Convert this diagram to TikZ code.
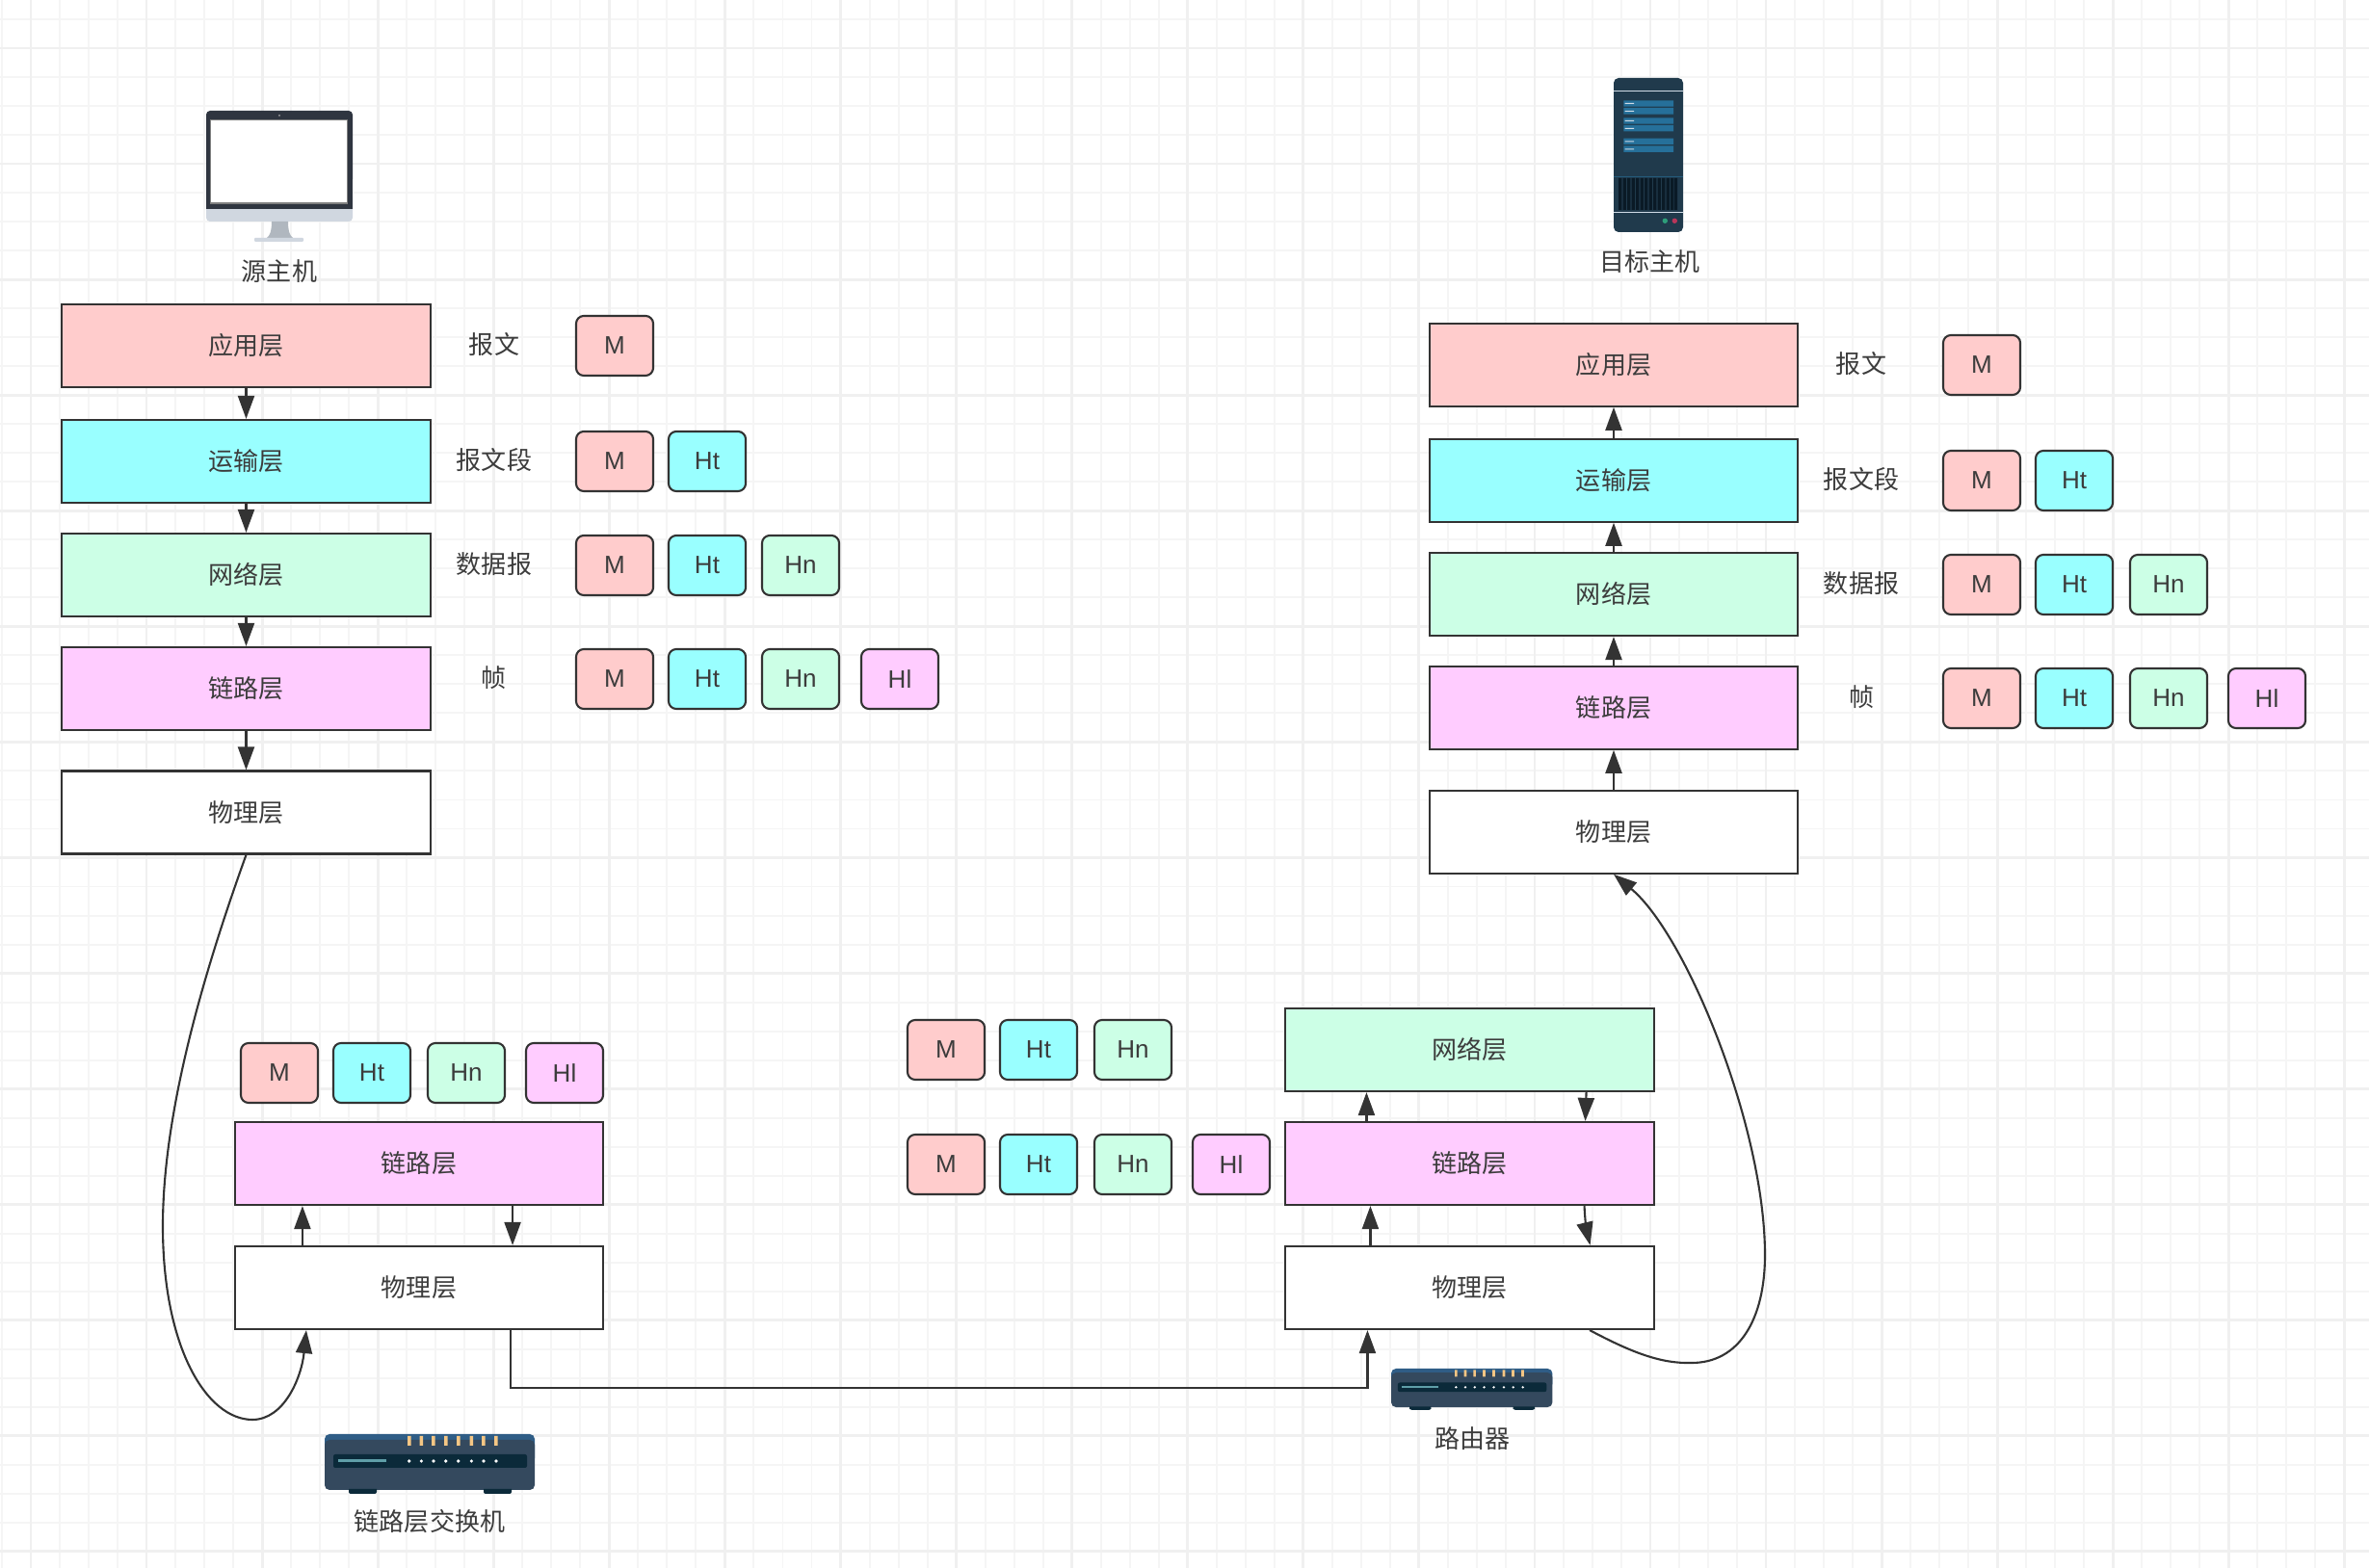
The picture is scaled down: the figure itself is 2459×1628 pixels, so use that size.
\documentclass[tikz,border=0pt]{standalone}
\usepackage{fontspec}
\usepackage{tikz}
\usetikzlibrary{arrows.meta}
\setmainfont{Liberation Sans}
\newfontfamily\cjkfont{Noto Sans CJK SC}
\definecolor{applayer}{HTML}{FFCCCC}
\definecolor{translayer}{HTML}{99FFFF}
\definecolor{netlayer}{HTML}{CCFFE6}
\definecolor{linklayer}{HTML}{FFCCFF}
\definecolor{inkgrey}{HTML}{333333}
\definecolor{textgrey}{HTML}{3C3C3C}
\definecolor{devbody}{HTML}{34495E}
\definecolor{devband}{HTML}{2F5D86}
\definecolor{devdark}{HTML}{0B2A3A}
\definecolor{devtick}{HTML}{F5C684}
\definecolor{devbar}{HTML}{5F9EA8}
\definecolor{srvbody}{HTML}{203A4C}
\definecolor{srvslat}{HTML}{26709A}
\definecolor{srvline}{HTML}{CFDBE6}
\definecolor{srvvent}{HTML}{0A1A26}
\definecolor{srvgreen}{HTML}{2E9E7A}
\definecolor{srvred}{HTML}{B8365A}
\definecolor{monframe}{HTML}{2F3540}
\definecolor{monchin}{HTML}{D0D7E0}
\definecolor{monstand}{HTML}{B0B7BF}
\tikzset{
  layerbox/.style={draw=inkgrey, line width=0.6pt, minimum width=3.82cm, minimum height=0.86cm,
    inner sep=0pt, text=textgrey, font=\cjkfont\fontsize{7.4pt}{9pt}\selectfont},
  headbox/.style={draw=inkgrey, line width=0.6pt, rounded corners=0.08cm, minimum width=0.8cm,
    minimum height=0.62cm, inner sep=0pt, text=textgrey, font=\fontsize{7.4pt}{9pt}\selectfont},
  tagtext/.style={inner sep=0pt, text=textgrey, font=\cjkfont\fontsize{7.4pt}{9pt}\selectfont},
  link/.style={draw=inkgrey, line width=0.6pt, -{Triangle[length=0.24cm,width=0.17cm]}},
  netbox/.pic={
    \fill[devband, rounded corners=0.05cm] (0,0) rectangle (218,30);
    \fill[devbody, rounded corners=0.05cm] (0,6) rectangle (218,58);
    \fill[devdark, rounded corners=0.02cm] (9,21) rectangle (210,35);
    \fill[devdark, rounded corners=0.02cm] (25,58) rectangle (54,62) (165,58) rectangle (194,62);
    \fill[devdark] (25,57) rectangle (54,60) (165,57) rectangle (194,60);
    \fill[devbar] (14,26) rectangle (64,29);
    \fill[devtick] (86,2) rectangle (89.5,12) (98.5,2) rectangle (102,12)
      (111,2) rectangle (114.5,12) (124,2) rectangle (127.5,12) (137,2) rectangle (140.5,12)
      (150.5,2) rectangle (154,12) (163,2) rectangle (166.5,12) (176,2) rectangle (179.5,12);
    \fill[white] (87.7,28) circle[radius=1.8] (100.3,28) circle[radius=1.8] (113,28) circle[radius=1.8]
      (125.7,28) circle[radius=1.8] (138.7,28) circle[radius=1.8] (152.3,28) circle[radius=1.8]
      (165,28) circle[radius=1.8] (178,28) circle[radius=1.8];
  }
}
\begin{document}
\begin{tikzpicture}[x=0.01cm, y=-0.01cm]
\useasboundingbox (0,0) rectangle (2459,1628);
%%% Draws background grid
\fill[white] (0,0) rectangle (2459,1628);
\draw[shift={(2,20)}, step=0.3cm, color=black!4, line width=0.55pt] (-2,-20) grid (2457,1608);
\draw[shift={(32,50)}, step=1.2cm, color=black!6, line width=0.8pt] (-32,-50) grid (2427,1578);
%%% Draws source host
% draws monitor
\fill[monchin, rounded corners=0.04cm] (214,200) rectangle (366,230);
\fill[monframe, rounded corners=0.04cm] (214,115) rectangle (366,190);
\fill[monframe] (214,150) rectangle (366,217);
\fill[white] (218.7,124) rectangle (360.7,211);
\draw[gray, line width=0.3pt] (218.7,124.3) -- (360.7,124.3) -- (360.7,211) -- (218.7,211) -- cycle;
\fill[gray!70] (290,120) circle[radius=1];
\fill[monstand] (282,230) -- (299,230) .. controls (299,240) and (301,245) .. (304,247) -- (277,247) .. controls (280,245) and (282,240) .. (282,230) -- cycle;
\fill[monchin, rounded corners=0.01cm] (264,247) rectangle (315,251);
\node[tagtext] (srcname) at (290,282) {源主机};
% draws layers
\node[layerbox, fill=applayer] (srcapp) at (255.5,359) {应用层};
\node[layerbox, fill=translayer] (srctrans) at (255.5,479) {运输层};
\node[layerbox, fill=netlayer] (srcnet) at (255.5,597) {网络层};
\node[layerbox, fill=linklayer] (srclink) at (255.5,715) {链路层};
\node[layerbox, fill=white] (srcphys) at (255.5,843.5) {物理层};
% draws edges
\draw[link] (srcapp) to (srctrans);
\draw[link] (srctrans) to (srcnet);
\draw[link] (srcnet) to (srclink);
\draw[link] (srclink) to (srcphys);
% labels layers
\node[tagtext] (srctag1) at (513,358) {报文};
\node[tagtext] (srctag2) at (513,478) {报文段};
\node[tagtext] (srctag3) at (513,586) {数据报};
\node[tagtext] (srctag4) at (513,704) {帧};
% draws headers
\node[headbox, fill=applayer] (srcm1) at (638,359) {M};
\node[headbox, fill=applayer] (srcm2) at (638,479) {M};
\node[headbox, fill=translayer] (srct2) at (734,479) {Ht};
\node[headbox, fill=applayer] (srcm3) at (638,587) {M};
\node[headbox, fill=translayer] (srct3) at (734,587) {Ht};
\node[headbox, fill=netlayer] (srcn3) at (831,587) {Hn};
\node[headbox, fill=applayer] (srcm4) at (638,705) {M};
\node[headbox, fill=translayer] (srct4) at (734,705) {Ht};
\node[headbox, fill=netlayer] (srcn4) at (831,705) {Hn};
\node[headbox, fill=linklayer] (srcl4) at (934,705) {Hl};
%%% Draws target host
% draws server
\fill[srvbody, rounded corners=0.05cm] (1675,81) rectangle (1747,241);
\fill[srvline] (1675,93.7) rectangle (1747,95);
\fill[srvslat] (1685.3,104.3) rectangle (1737,110.7) (1685.3,112) rectangle (1737,118.7)
  (1685.3,122.3) rectangle (1737,128.7) (1685.3,130) rectangle (1737,136.3)
  (1685.3,143.7) rectangle (1737,150) (1685.3,151.3) rectangle (1737,158);
\fill[srvline] (1686.7,107) rectangle (1696,108) (1686.7,115) rectangle (1696,116)
  (1686.7,125) rectangle (1696,126) (1686.7,133) rectangle (1696,134)
  (1686.7,146.5) rectangle (1696,147.5) (1686.7,154.5) rectangle (1696,155.5);
\fill[srvslat!60!srvbody] (1675,183) rectangle (1747,184);
\fill[srvvent] (1680,185) rectangle (1683.4,218) (1684.5,185) rectangle (1687.9,218)
  (1689,185) rectangle (1692.4,218) (1693.5,185) rectangle (1696.9,218)
  (1698,185) rectangle (1701.4,218) (1702.5,185) rectangle (1705.9,218)
  (1707,185) rectangle (1710.4,218) (1711.5,185) rectangle (1714.9,218)
  (1716,185) rectangle (1719.4,218) (1720.5,185) rectangle (1723.9,218)
  (1725,185) rectangle (1728.4,218) (1729.5,185) rectangle (1732.9,218)
  (1734,185) rectangle (1737.4,218) (1738,185) rectangle (1741,218);
\fill[srvline] (1675,220) rectangle (1747,221.5);
\fill[srvgreen] (1728.3,229.3) circle[radius=2.7];
\fill[srvred] (1738.3,229.3) circle[radius=2.7];
\node[tagtext] (tgtname) at (1712.7,271.5) {目标主机};
% draws layers
\node[layerbox, fill=applayer] (tgtapp) at (1675,378.7) {应用层};
\node[layerbox, fill=translayer] (tgttrans) at (1675,498.7) {运输层};
\node[layerbox, fill=netlayer] (tgtnet) at (1675,617) {网络层};
\node[layerbox, fill=linklayer] (tgtlink) at (1675,734.7) {链路层};
\node[layerbox, fill=white] (tgtphys) at (1675,863.7) {物理层};
% draws edges
\draw[link] (tgtphys) to (tgtlink);
\draw[link] (tgtlink) to (tgtnet);
\draw[link] (tgtnet) to (tgttrans);
\draw[link] (tgttrans) to (tgtapp);
% labels layers
\node[tagtext] (tgttag1) at (1932,378) {报文};
\node[tagtext] (tgttag2) at (1932,498) {报文段};
\node[tagtext] (tgttag3) at (1932,606) {数据报};
\node[tagtext] (tgttag4) at (1932,724) {帧};
% draws headers
\node[headbox, fill=applayer] (tgtm1) at (2057,379) {M};
\node[headbox, fill=applayer] (tgtm2) at (2057,499) {M};
\node[headbox, fill=translayer] (tgtt2) at (2153,499) {Ht};
\node[headbox, fill=applayer] (tgtm3) at (2057,607) {M};
\node[headbox, fill=translayer] (tgtt3) at (2153,607) {Ht};
\node[headbox, fill=netlayer] (tgtn3) at (2251,607) {Hn};
\node[headbox, fill=applayer] (tgtm4) at (2057,725) {M};
\node[headbox, fill=translayer] (tgtt4) at (2153,725) {Ht};
\node[headbox, fill=netlayer] (tgtn4) at (2251,725) {Hn};
\node[headbox, fill=linklayer] (tgtl4) at (2353,725) {Hl};
%%% Draws link layer switch
\node[headbox, fill=applayer] (swm) at (290,1114) {M};
\node[headbox, fill=translayer] (swt) at (386,1114) {Ht};
\node[headbox, fill=netlayer] (swn) at (484,1114) {Hn};
\node[headbox, fill=linklayer] (swl) at (586,1114) {Hl};
\node[layerbox, fill=linklayer] (swlink) at (435,1208) {链路层};
\node[layerbox, fill=white] (swphys) at (435,1337) {物理层};
\draw[link] ([xshift=-1.21cm]swphys.north) to ([xshift=-1.21cm]swlink.south);
\draw[link] ([xshift=0.97cm]swlink.south) to ([xshift=0.97cm]swphys.north);
\pic at (337,1489) {netbox};
\node[tagtext] (swname) at (446,1580) {链路层交换机};
%%% Draws router
\node[headbox, fill=applayer] (rtm1) at (982,1090) {M};
\node[headbox, fill=translayer] (rtt1) at (1078,1090) {Ht};
\node[headbox, fill=netlayer] (rtn1) at (1176,1090) {Hn};
\node[headbox, fill=applayer] (rtm2) at (982,1209) {M};
\node[headbox, fill=translayer] (rtt2) at (1078,1209) {Ht};
\node[headbox, fill=netlayer] (rtn2) at (1176,1209) {Hn};
\node[headbox, fill=linklayer] (rtl2) at (1278,1209) {Hl};
\node[layerbox, fill=netlayer] (rtnet) at (1525.5,1090) {网络层};
\node[layerbox, fill=linklayer] (rtlink) at (1525.5,1208) {链路层};
\node[layerbox, fill=white] (rtphys) at (1525.5,1337) {物理层};
\draw[link] ([xshift=-1.07cm]rtlink.north) to ([xshift=-1.07cm]rtnet.south);
\draw[link] ([xshift=1.21cm]rtnet.south) to ([xshift=1.2cm]rtlink.north);
\draw[link] ([xshift=-1.03cm]rtphys.north) to ([xshift=-1.03cm]rtlink.south);
\draw[link] ([xshift=1.19cm]rtlink.south) .. controls (1645,1265) and (1647,1278) .. ([xshift=1.25cm]rtphys.north);
\pic[xscale=0.768, yscale=0.69] at (1444,1421) {netbox};
\node[tagtext] (rtname) at (1528.5,1494) {路由器};
%%% Draws links between devices
\draw[link] (srcphys.south) .. controls (215,1000) and (169,1150) .. (169,1273)
  .. controls (169,1400) and (215,1474) .. (262,1474)
  .. controls (295,1474) and (313,1430) .. ([xshift=-1.17cm]swphys.south);
\draw[link] ([xshift=0.95cm]swphys.south) -- ++(0,60) -| ([xshift=-1.06cm]rtphys.south);
\draw[link] ([xshift=1.245cm]rtphys.south) .. controls (1695,1405) and (1725,1416) .. (1756,1415)
  .. controls (1805,1415) and (1832,1370) .. (1832,1303)
  .. controls (1832,1170) and (1750,970) .. (tgtphys.south);
\end{tikzpicture}
\end{document}
